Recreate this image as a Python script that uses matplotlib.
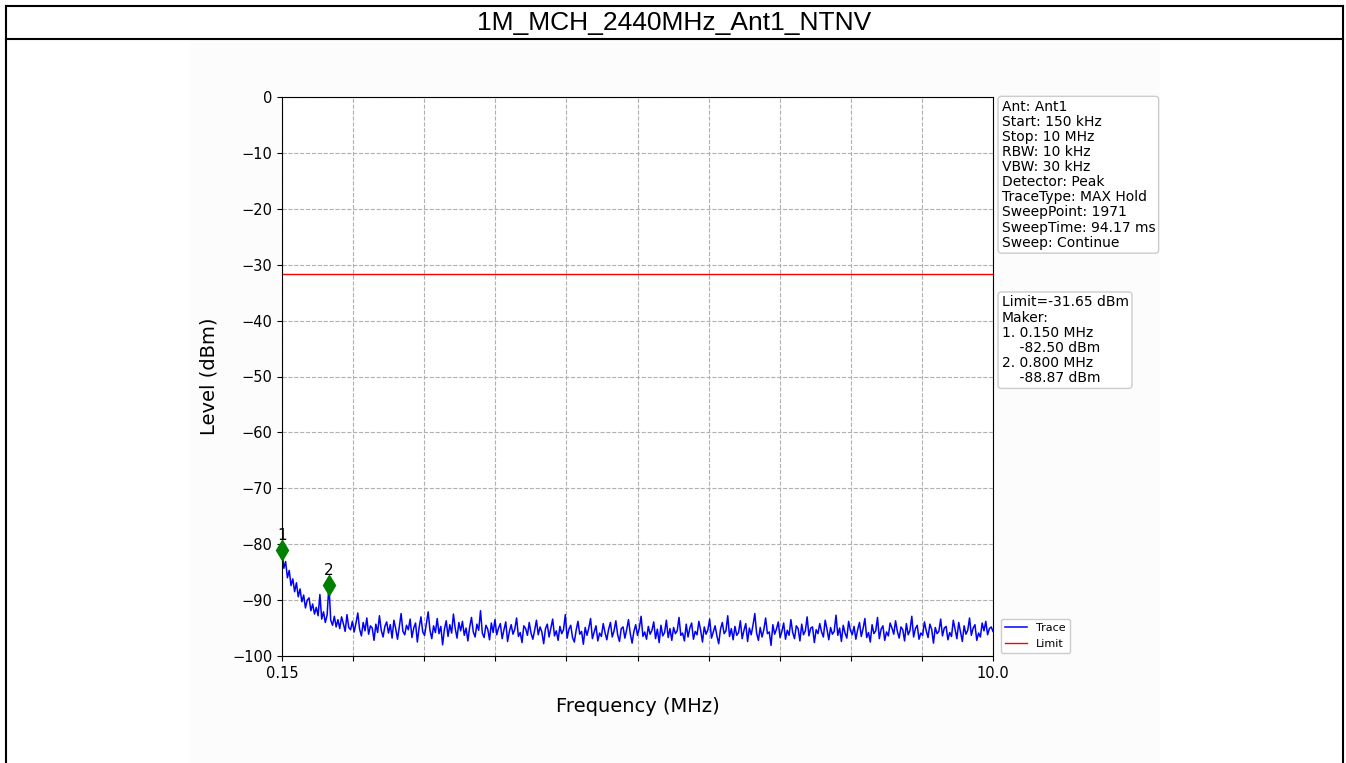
import numpy as np
import matplotlib
matplotlib.use("Agg")
import matplotlib.pyplot as plt
from matplotlib.patches import Rectangle
from matplotlib.lines import Line2D

# sweep settings
start_mhz = 0.15
stop_mhz = 10.0
limit_dbm = -31.65
title = "1M_MCH_2440MHz_Ant1_NTNV"

# trace levels (dBm), evenly spaced from start to stop
trace_dbm = [
    -81.0, -84.3, -83.1, -86.0, -84.7, -87.4, -86.2, -88.5, -86.9, -89.4, -88.0, -90.3, -89.1, -91.4, -90.0, -89.6, -91.9, -90.7, -92.5, -91.3,
    -92.8, -89.0, -93.4, -92.1, -94.0, -92.7, -87.3, -93.6, -94.5, -92.9, -94.8, -93.5, -95.1, -93.0, -94.2, -95.6, -92.6, -94.9, -95.3, -93.8,
    -95.7, -94.1, -92.3, -95.2, -96.4, -94.0, -95.5, -93.2, -96.1, -94.6, -95.0, -97.2, -94.3, -95.8, -92.8, -95.4, -96.6, -94.7, -93.9, -95.9,
    -94.4, -96.8, -93.6, -95.1, -97.0, -94.8, -92.4, -95.6, -96.2, -94.5, -95.3, -93.4, -96.7, -95.0, -94.1, -97.5, -94.9, -93.0, -95.7, -96.3,
    -94.2, -92.1, -95.4, -96.9, -94.6, -95.8, -93.3, -96.0, -94.7, -98.0, -95.2, -93.7, -96.5, -94.4, -95.9, -92.5, -95.1, -96.8, -94.0, -95.5,
    -93.8, -96.3, -95.0, -97.3, -94.8, -93.1, -95.7, -96.6, -94.3, -95.4, -91.9, -95.9, -96.7, -94.5, -95.2, -97.1, -94.1, -95.8, -93.5, -96.2,
    -95.0, -94.2, -96.9, -95.3, -93.9, -97.4, -95.6, -94.4, -96.1, -95.2, -93.2, -96.5, -95.8, -97.6, -94.6, -95.1, -96.3, -94.0, -95.9, -97.0,
    -95.4, -93.6, -96.2, -94.8, -95.7, -97.8, -95.1, -94.3, -96.6, -95.0, -93.4, -96.4, -95.5, -97.2, -94.7, -96.0, -95.3, -92.6, -96.8, -95.2,
    -94.5, -96.7, -97.5, -95.4, -93.8, -96.1, -95.6, -97.9, -94.9, -96.3, -95.0, -93.3, -96.9, -95.7, -94.6, -97.3, -95.9, -96.5, -94.2, -95.8,
    -97.1, -95.2, -94.0, -96.6, -95.5, -93.7, -96.2, -97.4, -95.1, -94.8, -96.8, -95.3, -93.5, -96.0, -97.7, -95.6, -94.4, -96.3, -95.0, -92.9,
    -96.5, -95.7, -97.0, -94.7, -96.1, -95.4, -93.9, -96.9, -95.2, -97.6, -94.5, -96.4, -95.8, -93.6, -96.7, -95.1, -97.2, -94.9, -96.0, -95.5,
    -93.1, -96.3, -95.9, -97.3, -94.3, -96.6, -95.0, -94.1, -97.0, -95.6, -96.2, -93.8, -95.4, -97.5, -94.8, -96.1, -95.3, -93.4, -96.8, -95.7,
    -94.6, -96.4, -97.8, -95.2, -94.0, -96.0, -95.5, -92.8, -96.5, -95.1, -97.1, -94.7, -96.3, -95.8, -93.7, -96.9, -95.4, -94.2, -97.4, -95.0,
    -96.2, -94.5, -92.4, -95.9, -97.2, -94.9, -96.6, -95.3, -93.2, -96.0, -95.7, -98.1, -94.4, -96.1, -95.2, -93.9, -96.7, -95.6, -94.1, -97.0,
    -95.4, -96.3, -93.5, -95.8, -96.9, -94.6, -95.1, -97.3, -94.3, -96.2, -95.5, -93.0, -96.4, -95.0, -94.8, -97.6, -95.3, -96.0, -94.2, -95.7,
    -96.6, -93.6, -95.2, -97.1, -94.9, -96.1, -95.6, -92.7, -96.3, -95.0, -97.4, -94.5, -95.9, -96.8, -93.8, -95.4, -96.2, -94.7, -97.0, -95.3,
    -94.0, -96.5, -95.1, -93.3, -96.7, -95.8, -97.5, -94.4, -96.0, -95.5, -93.1, -96.9, -95.2, -94.6, -97.2, -95.7, -96.4, -94.1, -95.0, -96.1,
    -93.7, -95.6, -96.8, -94.8, -95.3, -97.3, -94.2, -96.2, -95.4, -92.9, -96.6, -95.1, -94.5, -97.0, -95.9, -96.3, -93.9, -95.5, -96.7, -94.3,
    -95.2, -97.7, -94.9, -96.0, -95.6, -93.4, -96.4, -95.0, -94.7, -97.1, -95.8, -96.5, -93.6, -95.3, -96.9, -94.0, -95.7, -97.4, -94.6, -96.1,
    -95.4, -93.2, -96.3, -95.0, -94.4, -97.2, -95.9, -96.6, -94.1, -95.5, -93.8, -96.2, -95.1, -94.8, -95.6,
]

# markers
marker_mhz = [0.150, 0.800]
marker_dbm = [-82.50, -88.87]

info_lines = [
    "Ant: Ant1",
    "Start: 150 kHz",
    "Stop: 10 MHz",
    "RBW: 10 kHz",
    "VBW: 30 kHz",
    "Detector: Peak",
    "TraceType: MAX Hold",
    "SweepPoint: 1971",
    "SweepTime: 94.17 ms",
    "Sweep: Continue",
]

W, H = 1346, 763
fig = plt.figure(figsize=(W / 100, H / 100), dpi=100)

# outer frame + title cell
fig.add_artist(Rectangle((190 / W, 0), 970 / W, 723 / H, transform=fig.transFigure,
                         facecolor="#fcfcfc", edgecolor="none", zorder=0))
for x0, y0, x1, y1 in [(6, 6, 1343, 6), (6, 6, 6, 763), (1343, 6, 1343, 763), (6, 39, 1343, 39)]:
    fig.add_artist(Line2D([x0 / W, x1 / W], [1 - y0 / H, 1 - y1 / H], transform=fig.transFigure,
                          color="black", lw=1.5))
fig.text(674 / W, 1 - 23 / H, title, ha="center", va="center", fontsize=19,
         family=["Liberation Sans", "DejaVu Sans"])

ax = fig.add_axes([282 / W, 1 - 656 / H, 711 / W, 559 / H])
freqs = np.linspace(start_mhz, stop_mhz, len(trace_dbm))
ax.plot(freqs, trace_dbm, color="blue", lw=1.1, label="Trace")
ax.axhline(limit_dbm, color="red", lw=1, label="Limit")

for i, (f, lvl) in enumerate(zip(marker_mhz, marker_dbm)):
    idx = int(np.argmin(np.abs(freqs - f)))
    ax.plot(freqs[idx], trace_dbm[idx], marker="d", color="green", markersize=10, clip_on=False, zorder=5)
    ax.annotate(str(i + 1), (freqs[idx], trace_dbm[idx]), xytext=(0, 5), textcoords="offset points",
                ha="center", va="bottom", fontsize=11, annotation_clip=False)

ax.set_xlim(start_mhz, stop_mhz)
ax.set_ylim(-100, 0)
xt = np.linspace(start_mhz, stop_mhz, 11)
ax.set_xticks(xt)
ax.set_xticklabels([f"{start_mhz}"] + [""] * 9 + [f"{stop_mhz}"])
ax.set_yticks(np.arange(-100, 1, 10))
ax.tick_params(labelsize=10.5)
ax.grid(True, linestyle="--", color="#b0b0b0", lw=0.8)
ax.set_xlabel("Frequency (MHz)", fontsize=14, labelpad=12)
ax.set_ylabel("Level (dBm)", fontsize=14, labelpad=10)

box = dict(boxstyle="round,pad=0.25", facecolor="white", edgecolor="#cccccc")
ax.text(1.012, 0.995, "\n".join(info_lines), transform=ax.transAxes, va="top", ha="left",
        fontsize=10, linespacing=1.1, bbox=box)

mk_text = f"Limit={limit_dbm:.2f} dBm\nMaker:"
for i, (f, lvl) in enumerate(zip(marker_mhz, marker_dbm)):
    mk_text += f"\n{i + 1}. {f:.3f} MHz\n    {lvl:.2f} dBm"
ax.text(1.012, 0.645, mk_text, transform=ax.transAxes, va="top", ha="left",
        fontsize=10, linespacing=1.1, bbox=box)

ax.legend(loc="lower left", bbox_to_anchor=(1.003, -0.005), fontsize=8, framealpha=1)

fig.savefig("out.png", dpi=100)
